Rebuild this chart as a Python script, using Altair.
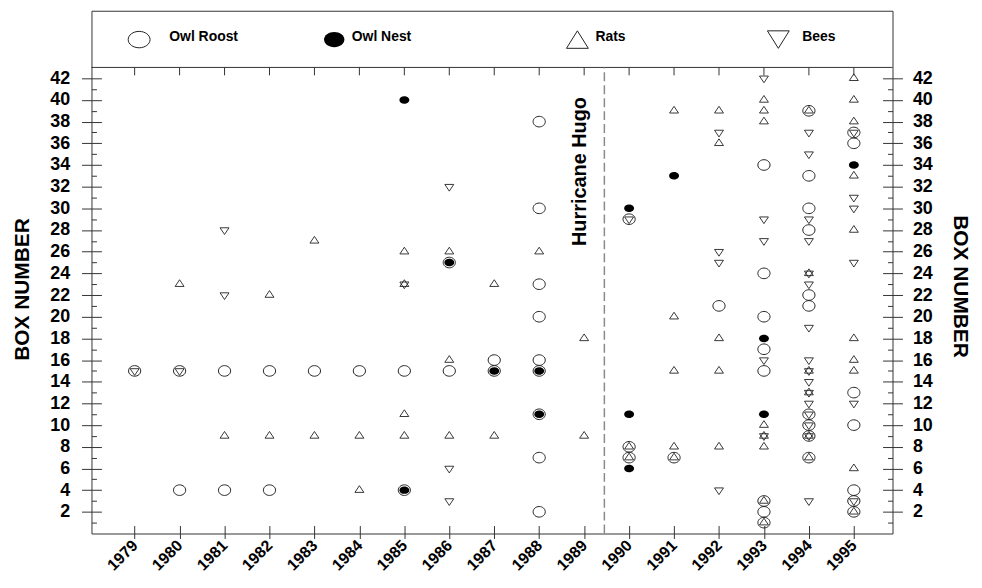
import altair as alt
import pandas as pd

FONT = "Liberation Sans"

# ---------------- data: occupied box numbers per year ----------------
roost = {
    1979: [15], 1980: [15, 4], 1981: [15, 4], 1982: [15, 4], 1983: [15], 1984: [15],
    1985: [15, 4], 1986: [25, 15], 1987: [16, 15],
    1988: [38, 30, 23, 20, 16, 15, 11, 7, 2],
    1990: [29, 8, 7], 1991: [7], 1992: [21],
    1993: [34, 24, 20, 17, 15, 3, 2, 1],
    1994: [39, 33, 30, 28, 22, 21, 11, 10, 9, 7],
    1995: [37, 36, 13, 10, 4, 3, 2],
}
nest = {
    1985: [40, 4], 1986: [25], 1987: [15], 1988: [15, 11],
    1990: [30, 11, 6], 1991: [33], 1993: [18, 11], 1995: [34],
}
rats = {
    1980: [23], 1981: [9], 1982: [22, 9], 1983: [27, 9], 1984: [9, 4],
    1985: [26, 23, 11, 9], 1986: [26, 16, 9], 1987: [23, 9], 1988: [26], 1989: [18, 9],
    1990: [8, 7], 1991: [39, 20, 15, 8, 7], 1992: [39, 36, 18, 15, 8],
    1993: [40, 39, 38, 10, 9, 8, 3, 1],
    1994: [39, 24, 15, 13, 9, 7],
    1995: [42, 40, 38, 33, 28, 18, 16, 15, 6, 2],
}
bees = {
    1979: [15], 1980: [15], 1981: [28, 22], 1985: [23], 1986: [32, 6, 3], 1990: [29],
    1992: [37, 26, 25, 4], 1993: [42, 29, 27, 16, 9],
    1994: [37, 35, 29, 27, 24, 23, 19, 16, 15, 14, 13, 12, 11, 10, 9, 3],
    1995: [37, 31, 30, 25, 12, 3],
}
years = list(range(1979, 1996))
box_ticks = list(range(2, 43, 2))
minor_ticks = list(range(1, 43, 2))
hugo_year = 1989.45
hugo_label = "Hurricane Hugo"
legend_labels = ["Owl Roost", "Owl Nest", "Rats", "Bees"]

# ---------------- layout (not data) ----------------
X_DOMAIN = [1978.04, 1995.86]
Y_DOMAIN = [0, 48.23]
PLOT_TOP = 43.0
legend_symbol_x = [1979.10, 1983.44, 1988.85, 1993.32]
legend_text_x = [1979.77, 1983.83, 1989.25, 1993.85]
LEGEND_SYM_Y = 45.57
LEGEND_TXT_Y = 45.78

xs = alt.Scale(domain=X_DOMAIN, nice=False, zero=False)
ys = alt.Scale(domain=Y_DOMAIN, nice=False, zero=False)

ELL_R = "M-1,0A1,0.87,0,1,1,1,0A1,0.87,0,1,1,-1,0Z"
ELL_N = "M-1,0A1,0.75,0,1,1,1,0A1,0.75,0,1,1,-1,0Z"
# triangles centred on their centroid so that overlapping up/down form a star
TRI_UP = "M0,-1L1,0.5L-1,0.5Z"
TRI_DN = "M0,1L1,-0.5L-1,-0.5Z"
LTRI_UP = "M0,-0.8L1,0.8L-1,0.8Z"
LTRI_DN = "M0,0.8L1,-0.8L-1,-0.8Z"
INK = "#222"


def frame(d):
    return pd.DataFrame([{"year": y, "box": b} for y, bs in d.items() for b in bs])


label_style = dict(labelFont=FONT, labelFontSize=18, labelFontWeight="bold",
                   labelColor="black", grid=False, domain=False, labelOverlap=False,
                   tickColor="#333", tickWidth=1)
title_style = dict(titleFont=FONT, titleFontSize=21, titleFontWeight="bold",
                   titleColor="black", titleAlign="center", titleBaseline="middle")

left_labels = alt.Axis(orient="left", values=box_ticks, format="d", tickSize=10,
                       labelPadding=12, title="BOX NUMBER", titleAngle=270,
                       titleX=-69, titleY=280, **label_style, **title_style)
left_in = alt.Axis(orient="left", values=box_ticks, offset=-10, tickSize=10,
                   labels=False, domain=False, grid=False, title=None, tickColor="#333")
left_minor = alt.Axis(orient="left", values=minor_ticks, offset=-5, tickSize=5,
                      labels=False, domain=False, grid=False, title=None, tickColor="#333")
right_labels = alt.Axis(orient="right", values=box_ticks, format="d", tickSize=10,
                        labelPadding=10, title="BOX NUMBER", titleAngle=90,
                        titleX=67, titleY=277, **label_style, **title_style)
right_in = alt.Axis(orient="right", values=box_ticks, offset=-10, tickSize=10,
                    labels=False, domain=False, grid=False, title=None, tickColor="#333")
right_minor = alt.Axis(orient="right", values=minor_ticks, offset=-5, tickSize=5,
                       labels=False, domain=False, grid=False, title=None, tickColor="#333")
bottom_labels = alt.Axis(orient="bottom", values=years, format="d", tickSize=5,
                         labelAngle=315, labelAlign="right", labelBaseline="middle",
                         labelPadding=4, labelFont=FONT, labelFontSize=16,
                         labelFontWeight="bold", labelColor="black", labelFlush=False,
                         labelOverlap=False, domain=False, grid=False, title=None,
                         tickColor="#333")
bottom_in = alt.Axis(orient="bottom", values=years, offset=-8, tickSize=8,
                     labels=False, domain=False, grid=False, title=None, tickColor="#333")


def X(field="year", axis=None):
    return alt.X(f"{field}:Q", scale=xs, axis=axis)


def Y(field="box", axis=None):
    return alt.Y(f"{field}:Q", scale=ys, axis=axis)


roost_layer = alt.Chart(frame(roost)).mark_point(
    shape=ELL_R, size=150, filled=False, stroke=INK, strokeWidth=1, opacity=1
).encode(x=X(axis=bottom_labels), y=Y(axis=left_labels))

nest_layer = alt.Chart(frame(nest)).mark_point(
    shape=ELL_N, size=100, filled=True, fill="black", strokeWidth=0, opacity=1
).encode(x=X(axis=bottom_in), y=Y(axis=left_in))

rats_layer = alt.Chart(frame(rats)).mark_point(
    shape=TRI_UP, size=81, filled=False, stroke=INK, strokeWidth=0.9, opacity=1
).encode(x=X(), y=Y(axis=left_minor))

bees_layer = alt.Chart(frame(bees)).mark_point(
    shape=TRI_DN, size=81, filled=False, stroke=INK, strokeWidth=0.9, opacity=1
).encode(x=X(), y=Y(axis=right_labels))

carrier = pd.DataFrame({"year": [years[0]], "box": [box_ticks[0]]})
carrier_a = alt.Chart(carrier).mark_point(opacity=0).encode(x=X(), y=Y(axis=right_in))
carrier_b = alt.Chart(carrier).mark_point(opacity=0).encode(x=X(), y=Y(axis=right_minor))

# top-of-plot line (bottom of legend box) with inward ticks at each year
sep_df = pd.DataFrame({"top": [PLOT_TOP]})
sep_layer = alt.Chart(sep_df).mark_rule(color="#333", strokeWidth=1).encode(y=Y("top"))
top_ticks_df = pd.DataFrame({"year": years, "t0": PLOT_TOP, "t1": PLOT_TOP - 0.73})
top_ticks = alt.Chart(top_ticks_df).mark_rule(color="#333", strokeWidth=1).encode(
    x=X(), y=Y("t0"), y2="t1:Q")

# Hurricane Hugo
hugo_df = pd.DataFrame({"year": [hugo_year], "y0": [0.0], "y1": [PLOT_TOP]})
hugo_line = alt.Chart(hugo_df).mark_rule(
    color="#8a8a8a", strokeWidth=1.5, strokeDash=[9, 4]).encode(x=X(), y=Y("y0"), y2="y1:Q")
hugo_txt_df = pd.DataFrame({"year": [1988.9], "y": [33.4], "t": [hugo_label]})
hugo_text = alt.Chart(hugo_txt_df).mark_text(
    angle=270, font=FONT, fontSize=20, fontWeight="bold", color="black",
    align="center", baseline="middle").encode(x=X(), y=Y("y"), text="t:N")

# legend
leg = pd.DataFrame({"label": legend_labels, "sx": legend_symbol_x,
                    "tx": legend_text_x, "sy": LEGEND_SYM_Y, "ty": LEGEND_TXT_Y})
leg_roost = alt.Chart(leg.iloc[[0]]).mark_point(
    shape=ELL_N, size=484, filled=False, stroke=INK, strokeWidth=1, opacity=1
).encode(x=X("sx"), y=Y("sy"))
leg_nest = alt.Chart(leg.iloc[[1]]).mark_point(
    shape=ELL_N, size=420, filled=True, fill="black", strokeWidth=0, opacity=1
).encode(x=X("sx"), y=Y("sy"))
leg_rats = alt.Chart(leg.iloc[[2]]).mark_point(
    shape=LTRI_UP, size=484, filled=False, stroke=INK, strokeWidth=1, opacity=1
).encode(x=X("sx"), y=Y("sy"))
leg_bees = alt.Chart(leg.iloc[[3]]).mark_point(
    shape=LTRI_DN, size=484, filled=False, stroke=INK, strokeWidth=1, opacity=1
).encode(x=X("sx"), y=Y("sy"))
leg_text = alt.Chart(leg).mark_text(
    font=FONT, fontSize=14, fontWeight="bold", color="black", align="left",
    baseline="middle").encode(x=X("tx"), y=Y("ty"), text="label:N")

chart = alt.layer(
    sep_layer, top_ticks, hugo_line, hugo_text,
    roost_layer, nest_layer, rats_layer, bees_layer, carrier_a, carrier_b,
    leg_roost, leg_nest, leg_rats, leg_bees, leg_text,
).resolve_axis(x="independent", y="independent").properties(
    width=806, height=526,
    padding={"left": 84, "top": 1, "right": 82, "bottom": 42},
    autosize=alt.AutoSizeParams(type="none"),
    background="white",
).configure_view(stroke="#333", strokeWidth=1)

chart.save("out.html", embed_options={"renderer": "svg", "actions": False})
